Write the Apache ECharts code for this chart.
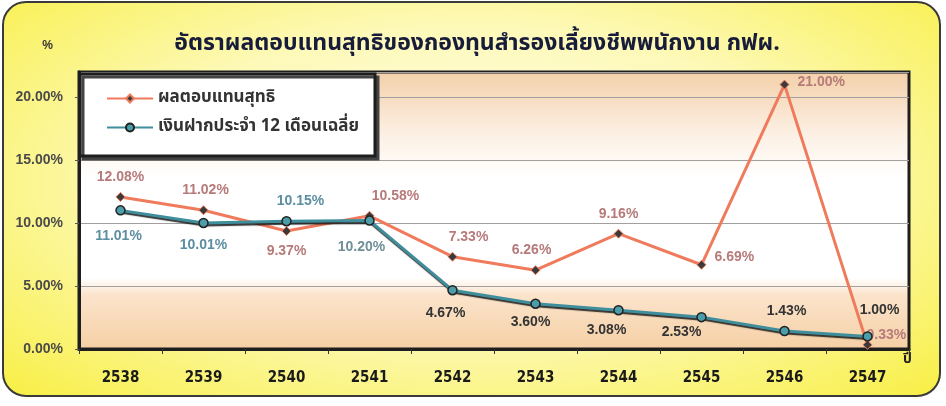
<!DOCTYPE html>
<html>
<head>
<meta charset="utf-8">
<style>
  html, body { margin: 0; padding: 0; background: #ffffff; }
  #frame {
    position: absolute; left: 2px; top: 1px; width: 935px; height: 392px;
    border: 2px solid #3a3a3a; border-radius: 24px;
    background: radial-gradient(ellipse at 50% 45%, #fffef2 0%, #fdf9b8 50%, #f8ef45 100%);
  }
  #chart { position: absolute; left: 0; top: 0; width: 946px; height: 406px; }
</style>
</head>
<body>
<div id="frame"></div>
<div id="chart"></div>
<script src="https://cdn.jsdelivr.net/npm/echarts@6/dist/echarts.min.js"></script>
<script>
var years = ['2538', '2539', '2540', '2541', '2542', '2543', '2544', '2545', '2546', '2547'];
var netReturn = [12.08, 11.02, 9.37, 10.58, 7.33, 6.26, 9.16, 6.69, 21.00, 0.33];
var deposit12m = [11.01, 10.01, 10.15, 10.20, 4.67, 3.60, 3.08, 2.53, 1.43, 1.00];
var yTicks = [0, 5, 10, 15, 20];

// label placement per point (position, offset)
var netPos = [['top', [0, 0]], ['top', [2, 0]], ['bottom', [0, 0]], ['top', [26, 0]], ['top', [16, 0]],
              ['top', [-4, 0]], ['top', [0, 0]], ['right', [0, -8]], ['right', [0, -2]], ['right', [-14, -10]]];
var depPos = [['bottom', [-2, 6]], ['bottom', [0, 2]], ['top', [14, 0]], ['bottom', [-8, 6]], ['bottom', [-7, 3]],
              ['bottom', [-5, -2]], ['bottom', [-12, 0]], ['bottom', [-20, -5]], ['top', [2, 0]], ['top', [12, -6]]];
var depLabelColors = ['#5c8ea2', '#5c8ea2', '#5c8ea2', '#6f9098', '#333', '#333', '#333', '#333', '#333', '#333'];

var numFont = '"Liberation Sans", Arial, sans-serif';
var thaiFont = '"Noto Sans Thai", "Noto Sans", "DejaVu Sans", sans-serif';

var chart = echarts.init(document.getElementById('chart'), null, { renderer: 'canvas' });

function labelled(values, pos, colors) {
  return values.map(function(v, i) {
    return {
      value: v,
      label: {
        position: pos[i][0],
        offset: pos[i][1],
        color: typeof colors === 'string' ? colors : colors[i]
      }
    };
  });
}

chart.setOption({
  animation: false,
  backgroundColor: 'transparent',
  title: {
    text: 'อัตราผลตอบแทนสุทธิของกองทุนสำรองเลี้ยงชีพพนักงาน กฟผ.',
    left: 472, top: 29, textAlign: 'center',
    textStyle: { fontFamily: thaiFont, fontSize: 23, fontWeight: 'bold', color: '#161c3a' }
  },
  legend: {
    left: 80, top: 74, orient: 'vertical',
    backgroundColor: '#ffffff', borderColor: '#1e1e1e', borderWidth: 3,
    shadowColor: '#444', shadowOffsetX: 3, shadowOffsetY: 3, shadowBlur: 0,
    padding: [16, 16, 20, 26], itemGap: 12,
    itemWidth: 46, itemHeight: 10,
    textStyle: { fontFamily: thaiFont, fontSize: 17, fontWeight: 'bold', color: '#333' },
    data: ['ผลตอบแทนสุทธิ', 'เงินฝากประจำ 12 เดือนเฉลี่ย']
  },
  grid: {
    left: 79, right: 37, top: 72, bottom: 57,
    show: true, borderColor: '#1e1e1e', borderWidth: 3,
    backgroundColor: new echarts.graphic.LinearGradient(0, 0, 0, 1, [
      { offset: 0, color: '#f3cfa8' },
      { offset: 0.22, color: '#fcefe2' },
      { offset: 0.38, color: '#ffffff' },
      { offset: 0.74, color: '#ffffff' },
      { offset: 0.8, color: '#fbe4cc' },
      { offset: 1, color: '#f5cfa3' }
    ])
  },
  xAxis: {
    type: 'category', data: years, boundaryGap: true,
    name: 'ปี', nameLocation: 'end', nameGap: -6,
    nameTextStyle: { fontFamily: thaiFont, fontSize: 14, fontWeight: 'bold', color: '#222', verticalAlign: 'top', padding: [4, 0, 0, 0] },
    axisLine: { lineStyle: { color: '#1e1e1e', width: 3 } },
    axisTick: { show: true, length: 5, lineStyle: { color: '#333', width: 1 } },
    axisLabel: { margin: 22, fontFamily: '"Liberation Sans Narrow", "DejaVu Sans Condensed", Arial, sans-serif', fontSize: 15, fontWeight: 'bold', color: '#1a1a1a' }
  },
  yAxis: {
    type: 'value', min: 0, max: 22, interval: 5,
    name: '%', nameLocation: 'end', nameGap: 20,
    nameTextStyle: { fontFamily: numFont, fontSize: 12, fontWeight: 'bold', color: '#333', align: 'right', padding: [0, 26, 0, 0] },
    axisLine: { show: true, lineStyle: { color: '#1e1e1e', width: 3 } },
    axisTick: { show: true, length: 4, lineStyle: { color: '#555' } },
    axisLabel: {
      showMaxLabel: false, margin: 16,
      fontFamily: numFont, fontSize: 14, fontWeight: 'bold', color: '#4a4a4a',
      formatter: function(v) { return yTicks.indexOf(v) >= 0 ? v.toFixed(2) + '%' : ''; }
    },
    splitLine: { show: true, lineStyle: { color: '#a0a0a0', width: 1.2 } }
  },
  series: [
    {
      name: 'ผลตอบแทนสุทธิ', type: 'line', z: 3,
      data: labelled(netReturn, netPos, '#b67a7a'),
      symbol: 'diamond', symbolSize: 9, showAllSymbol: true,
      lineStyle: { color: '#ef7b5c', width: 3 },
      itemStyle: { color: '#3a3a3a', borderColor: '#ef7b5c', borderWidth: 1 },
      label: {
        show: true, distance: 8,
        fontFamily: numFont, fontSize: 14, fontWeight: 'bold',
        formatter: function(p) { return p.value.toFixed(2) + '%'; }
      }
    },
    {
      name: 'เงินฝากประจำ 12 เดือนเฉลี่ย', type: 'line', z: 4,
      data: labelled(deposit12m, depPos, depLabelColors),
      symbol: 'circle', symbolSize: 9, showAllSymbol: true,
      lineStyle: { color: '#3f8e9c', width: 3, shadowColor: 'rgba(20,20,20,0.85)', shadowOffsetX: 1, shadowOffsetY: 2, shadowBlur: 1 },
      itemStyle: { color: '#4c9daa', borderColor: '#222', borderWidth: 1.5 },
      label: {
        show: true, distance: 8,
        fontFamily: numFont, fontSize: 14, fontWeight: 'bold',
        formatter: function(p) { return p.value.toFixed(2) + '%'; }
      }
    }
  ]
});
</script>
</body>
</html>
